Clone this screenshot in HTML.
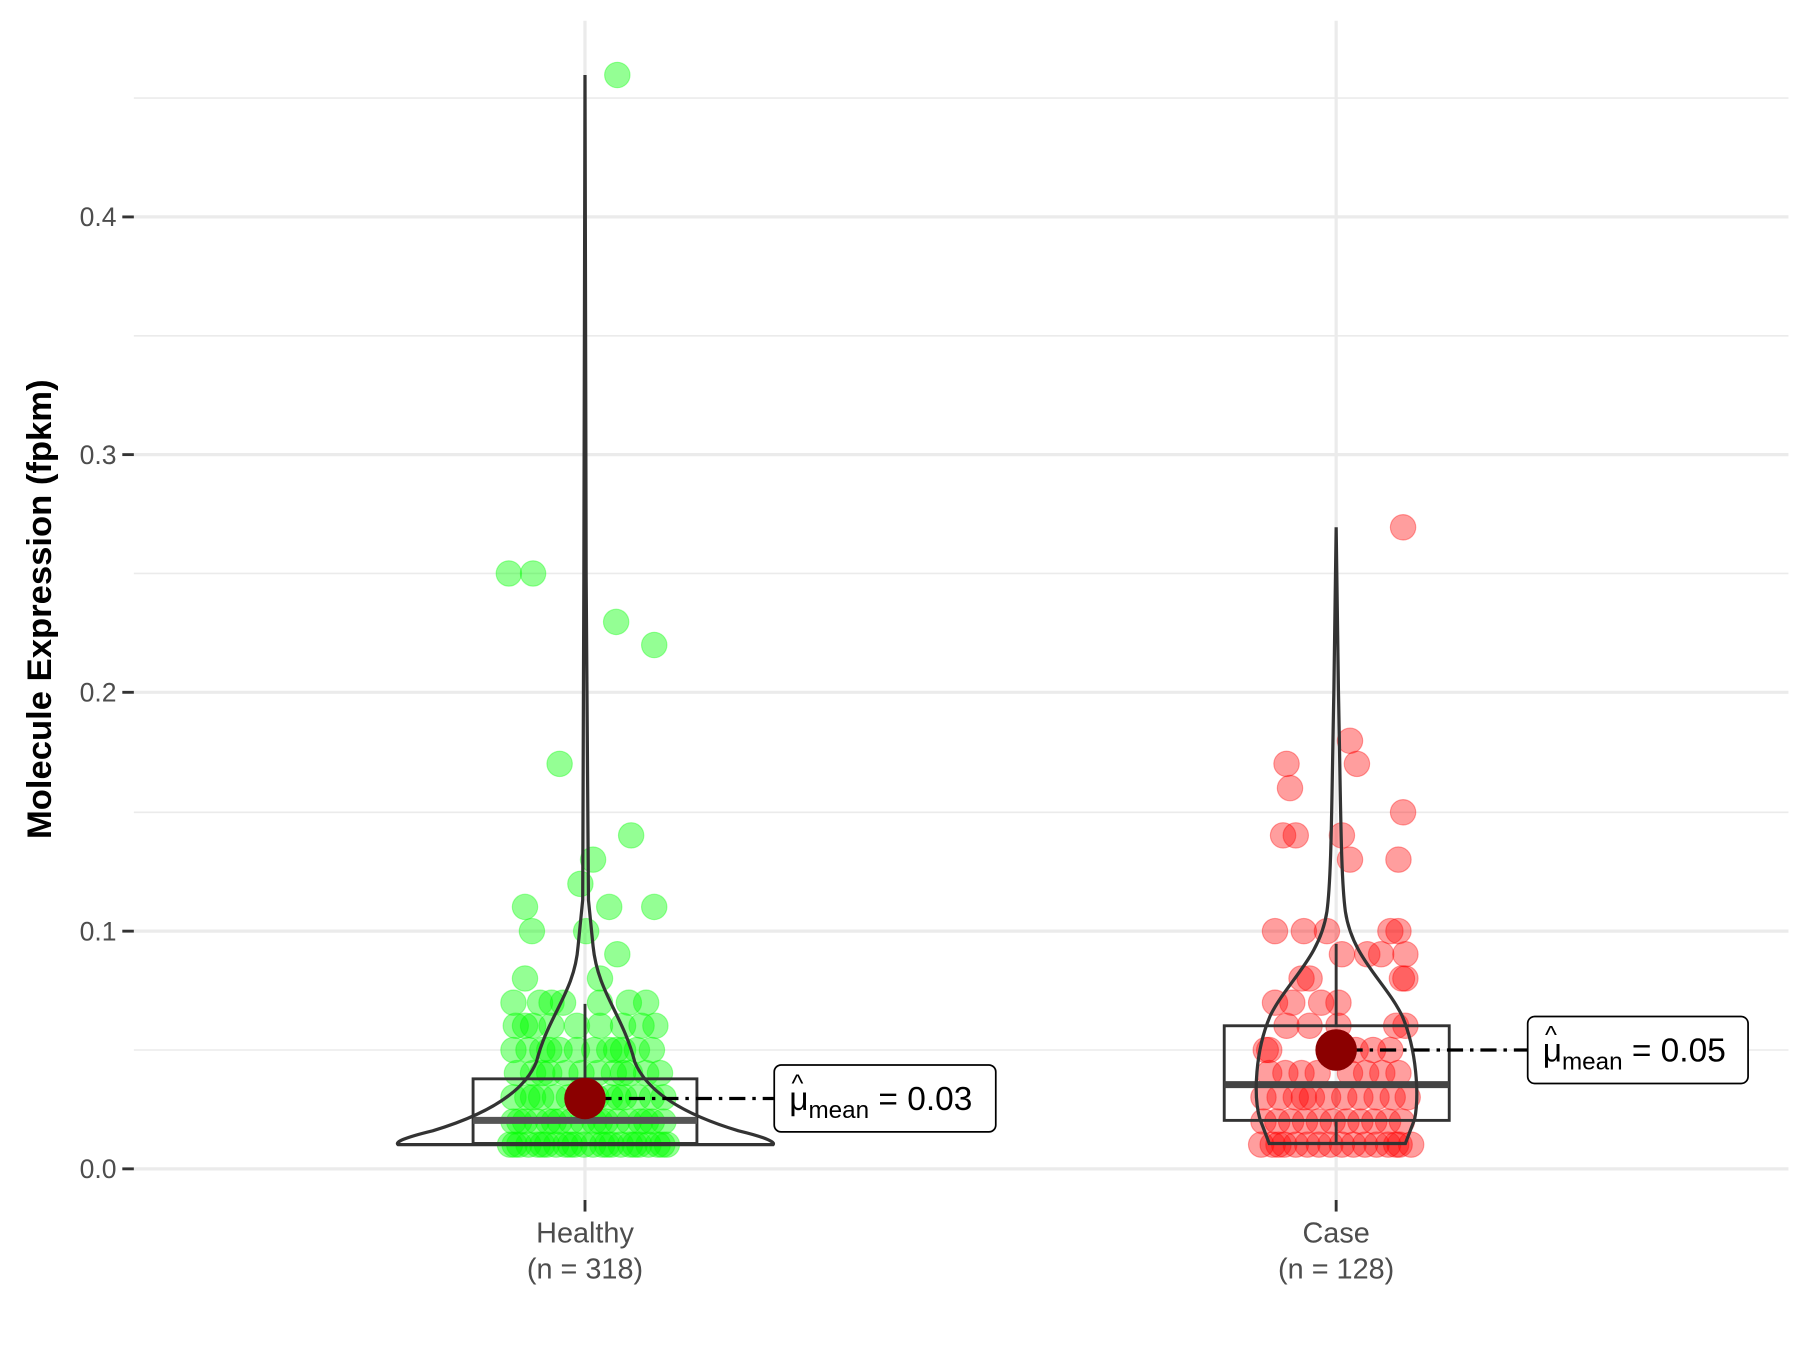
<!DOCTYPE html>
<html><head><meta charset="utf-8"><style>
html,body{margin:0;padding:0;background:#fff;}
svg{display:block;font-family:"Liberation Sans",Arial,sans-serif;}
.g circle{fill:#00ff00;fill-opacity:.42;stroke:#00ff00;stroke-opacity:.35;}
.r circle{fill:#ff0000;fill-opacity:.38;stroke:#ff0000;stroke-opacity:.35;}
</style></head><body>
<svg width="1800" height="1350" viewBox="0 0 1560 1170" xmlns="http://www.w3.org/2000/svg">
<rect width="1560" height="1170" fill="#fff"/>
<g stroke="#ebebeb" stroke-width="1.4">
<line x1="116" x2="1550" y1="85" y2="85"/><line x1="116" x2="1550" y1="291" y2="291"/><line x1="116" x2="1550" y1="497" y2="497"/><line x1="116" x2="1550" y1="704" y2="704"/><line x1="116" x2="1550" y1="910" y2="910"/>
</g>
<g stroke="#ebebeb" stroke-width="2.8">
<line x1="116" x2="1550" y1="188" y2="188"/><line x1="116" x2="1550" y1="394" y2="394"/><line x1="116" x2="1550" y1="600" y2="600"/><line x1="116" x2="1550" y1="807" y2="807"/><line x1="116" x2="1550" y1="1013" y2="1013"/>
<line x1="507" x2="507" y1="18" y2="1040"/><line x1="1158" x2="1158" y1="18" y2="1040"/>
</g>
<g stroke="#333" stroke-width="2.5">
<line x1="106" x2="116" y1="188" y2="188"/><line x1="106" x2="116" y1="394" y2="394"/><line x1="106" x2="116" y1="600" y2="600"/><line x1="106" x2="116" y1="807" y2="807"/><line x1="106" x2="116" y1="1013" y2="1013"/>
<line x1="507" x2="507" y1="1040" y2="1050"/><line x1="1158" x2="1158" y1="1040" y2="1050"/>
</g>
<g fill="#4d4d4d" font-size="23" text-anchor="end">
<text x="101" y="196">0.4</text><text x="101" y="402">0.3</text><text x="101" y="608">0.2</text><text x="101" y="815">0.1</text><text x="101" y="1021">0.0</text>
</g>
<g fill="#4d4d4d" font-size="25" text-anchor="middle">
<text x="507" y="1077">Healthy</text><text x="507" y="1108">(n = 318)</text>
<text x="1158" y="1077">Case</text><text x="1158" y="1108">(n = 128)</text>
</g>
<text transform="translate(44,528) rotate(-90)" text-anchor="middle" font-size="30" font-weight="bold" fill="#000">Molecule Expression (fpkm)</text>

<g class="g">
<circle cx="442" cy="992" r="11"/><circle cx="450" cy="992" r="11"/><circle cx="458" cy="992" r="11"/><circle cx="466" cy="992" r="11"/><circle cx="474" cy="992" r="11"/><circle cx="482" cy="992" r="11"/><circle cx="490" cy="992" r="11"/><circle cx="498" cy="992" r="11"/><circle cx="506" cy="992" r="11"/><circle cx="514" cy="992" r="11"/><circle cx="522" cy="992" r="11"/><circle cx="530" cy="992" r="11"/><circle cx="538" cy="992" r="11"/><circle cx="546" cy="992" r="11"/><circle cx="554" cy="992" r="11"/><circle cx="562" cy="992" r="11"/><circle cx="570" cy="992" r="11"/><circle cx="578" cy="992" r="11"/>
<circle cx="446" cy="992" r="11"/><circle cx="470" cy="992" r="11"/><circle cx="494" cy="992" r="11"/><circle cx="526" cy="992" r="11"/><circle cx="550" cy="992" r="11"/><circle cx="574" cy="992" r="11"/>
<circle cx="445" cy="972" r="11"/><circle cx="455" cy="972" r="11"/><circle cx="465" cy="972" r="11"/><circle cx="475" cy="972" r="11"/><circle cx="485" cy="972" r="11"/><circle cx="495" cy="972" r="11"/><circle cx="505" cy="972" r="11"/><circle cx="515" cy="972" r="11"/><circle cx="525" cy="972" r="11"/><circle cx="535" cy="972" r="11"/><circle cx="545" cy="972" r="11"/><circle cx="555" cy="972" r="11"/><circle cx="565" cy="972" r="11"/><circle cx="575" cy="972" r="11"/>
<circle cx="450" cy="972" r="11"/><circle cx="480" cy="972" r="11"/><circle cx="520" cy="972" r="11"/><circle cx="560" cy="972" r="11"/>
<circle cx="445" cy="951" r="11"/><circle cx="457" cy="951" r="11"/><circle cx="469" cy="951" r="11"/><circle cx="481" cy="951" r="11"/><circle cx="493" cy="951" r="11"/><circle cx="517" cy="951" r="11"/><circle cx="529" cy="951" r="11"/><circle cx="541" cy="951" r="11"/><circle cx="553" cy="951" r="11"/><circle cx="565" cy="951" r="11"/><circle cx="575" cy="951" r="11"/><circle cx="462" cy="951" r="11"/><circle cx="536" cy="951" r="11"/>
<circle cx="448" cy="930" r="11"/><circle cx="462" cy="930" r="11"/><circle cx="476" cy="930" r="11"/><circle cx="490" cy="930" r="11"/><circle cx="504" cy="930" r="11"/><circle cx="518" cy="930" r="11"/><circle cx="532" cy="930" r="11"/><circle cx="546" cy="930" r="11"/><circle cx="560" cy="930" r="11"/><circle cx="572" cy="930" r="11"/><circle cx="470" cy="930" r="11"/><circle cx="540" cy="930" r="11"/>
<circle cx="445" cy="910" r="11"/><circle cx="458" cy="910" r="11"/><circle cx="470" cy="910" r="11"/><circle cx="485" cy="910" r="11"/><circle cx="500" cy="910" r="11"/><circle cx="515" cy="910" r="11"/><circle cx="528" cy="910" r="11"/><circle cx="540" cy="910" r="11"/><circle cx="552" cy="910" r="11"/><circle cx="565" cy="910" r="11"/><circle cx="476" cy="910" r="11"/><circle cx="534" cy="910" r="11"/>
<circle cx="447" cy="889" r="11"/><circle cx="462" cy="889" r="11"/><circle cx="478" cy="889" r="11"/><circle cx="500" cy="889" r="11"/><circle cx="520" cy="889" r="11"/><circle cx="540" cy="889" r="11"/><circle cx="556" cy="889" r="11"/><circle cx="568" cy="889" r="11"/><circle cx="455" cy="889" r="11"/>
<circle cx="445" cy="869" r="11"/><circle cx="468" cy="869" r="11"/><circle cx="478" cy="869" r="11"/><circle cx="488" cy="869" r="11"/><circle cx="520" cy="869" r="11"/><circle cx="545" cy="869" r="11"/><circle cx="560" cy="869" r="11"/>
<circle cx="455" cy="848" r="11"/><circle cx="520" cy="848" r="11"/>
<circle cx="535" cy="827" r="11"/>
<circle cx="461" cy="807" r="11"/><circle cx="508" cy="807" r="11"/>
<circle cx="455" cy="786" r="11"/><circle cx="528" cy="786" r="11"/><circle cx="567" cy="786" r="11"/>
<circle cx="503" cy="766" r="11"/><circle cx="514" cy="745" r="11"/>
<circle cx="547" cy="724" r="11"/><circle cx="485" cy="662" r="11"/><circle cx="567" cy="559" r="11"/><circle cx="534" cy="539" r="11"/><circle cx="441" cy="497" r="11"/><circle cx="462" cy="497" r="11"/><circle cx="535" cy="65" r="11"/>
</g>
<g class="r">
<circle cx="1093" cy="992" r="11"/><circle cx="1103" cy="992" r="11"/><circle cx="1113" cy="992" r="11"/><circle cx="1123" cy="992" r="11"/><circle cx="1133" cy="992" r="11"/><circle cx="1143" cy="992" r="11"/><circle cx="1153" cy="992" r="11"/><circle cx="1163" cy="992" r="11"/><circle cx="1173" cy="992" r="11"/><circle cx="1183" cy="992" r="11"/><circle cx="1193" cy="992" r="11"/><circle cx="1203" cy="992" r="11"/><circle cx="1213" cy="992" r="11"/><circle cx="1223" cy="992" r="11"/><circle cx="1108" cy="992" r="11"/><circle cx="1210" cy="992" r="11"/>
<circle cx="1095" cy="972" r="11"/><circle cx="1107" cy="972" r="11"/><circle cx="1119" cy="972" r="11"/><circle cx="1131" cy="972" r="11"/><circle cx="1143" cy="972" r="11"/><circle cx="1155" cy="972" r="11"/><circle cx="1167" cy="972" r="11"/><circle cx="1179" cy="972" r="11"/><circle cx="1191" cy="972" r="11"/><circle cx="1203" cy="972" r="11"/><circle cx="1215" cy="972" r="11"/>
<circle cx="1095" cy="951" r="11"/><circle cx="1109" cy="951" r="11"/><circle cx="1123" cy="951" r="11"/><circle cx="1137" cy="951" r="11"/><circle cx="1151" cy="951" r="11"/><circle cx="1165" cy="951" r="11"/><circle cx="1179" cy="951" r="11"/><circle cx="1193" cy="951" r="11"/><circle cx="1207" cy="951" r="11"/><circle cx="1220" cy="951" r="11"/><circle cx="1130" cy="951" r="11"/>
<circle cx="1100" cy="930" r="11"/><circle cx="1114" cy="930" r="11"/><circle cx="1128" cy="930" r="11"/><circle cx="1142" cy="930" r="11"/><circle cx="1170" cy="930" r="11"/><circle cx="1184" cy="930" r="11"/><circle cx="1198" cy="930" r="11"/><circle cx="1212" cy="930" r="11"/>
<circle cx="1097" cy="910" r="11"/><circle cx="1100" cy="910" r="11"/><circle cx="1175" cy="910" r="11"/><circle cx="1190" cy="910" r="11"/><circle cx="1205" cy="910" r="11"/>
<circle cx="1115" cy="889" r="11"/><circle cx="1135" cy="889" r="11"/><circle cx="1160" cy="889" r="11"/><circle cx="1210" cy="889" r="11"/><circle cx="1218" cy="889" r="11"/>
<circle cx="1105" cy="869" r="11"/><circle cx="1120" cy="869" r="11"/><circle cx="1145" cy="869" r="11"/><circle cx="1160" cy="869" r="11"/>
<circle cx="1128" cy="848" r="11"/><circle cx="1135" cy="848" r="11"/><circle cx="1215" cy="848" r="11"/><circle cx="1218" cy="848" r="11"/>
<circle cx="1163" cy="827" r="11"/><circle cx="1185" cy="827" r="11"/><circle cx="1197" cy="827" r="11"/><circle cx="1218" cy="827" r="11"/>
<circle cx="1105" cy="807" r="11"/><circle cx="1130" cy="807" r="11"/><circle cx="1150" cy="807" r="11"/><circle cx="1205" cy="807" r="11"/><circle cx="1212" cy="807" r="11"/>
<circle cx="1170" cy="745" r="11"/><circle cx="1212" cy="745" r="11"/>
<circle cx="1112" cy="724" r="11"/><circle cx="1123" cy="724" r="11"/><circle cx="1163" cy="724" r="11"/>
<circle cx="1216" cy="704" r="11"/><circle cx="1118" cy="683" r="11"/><circle cx="1115" cy="662" r="11"/><circle cx="1176" cy="662" r="11"/><circle cx="1170" cy="642" r="11"/>
<circle cx="1216" cy="457" r="11"/>
</g>

<g fill="none" stroke="#333" stroke-width="2.5">
<rect x="410" y="935" width="194" height="56"/>
<line x1="507" x2="507" y1="870" y2="935"/>
<rect x="1061" y="889" width="195" height="82"/>
<line x1="1158" x2="1158" y1="818" y2="889"/><line x1="1158" x2="1158" y1="971" y2="991"/>
</g>
<line x1="410" x2="604" y1="971" y2="971" stroke="#555" stroke-width="6"/>
<line x1="1061" x2="1256" y1="940" y2="940" stroke="#444" stroke-width="6"/>
<g fill="none" stroke="#333" stroke-width="2.8">
<path d="M507,65 L508,500 L510,780 L514,820 C518,860 540,880 550,920 C560,945 590,965 640,980 C665,986 672,990 670,992 L345,992 C342,990 350,986 375,980 C425,965 455,945 465,920 C475,880 498,860 501,820 L505,780 L506,500 Z"/>
<path d="M1158,457 L1160,600 C1162,700 1162,760 1166,790 C1172,830 1200,850 1215,880 C1228,910 1230,950 1226,970 L1218,991 L1100,991 L1092,970 C1086,950 1088,910 1101,880 C1116,850 1144,830 1150,790 C1154,760 1154,700 1156,600 Z"/>
</g>
<g stroke="#000" stroke-width="2.8" stroke-dasharray="14,6,3,6">
<line x1="516" x2="672" y1="952" y2="952"/><line x1="1167" x2="1324" y1="910" y2="910"/>
</g>
<circle cx="507" cy="952" r="18" fill="#8b0000"/><circle cx="1158" cy="910" r="18" fill="#8b0000"/>
<g fill="#fff" stroke="#000" stroke-width="1.5">
<rect x="671" y="923" width="192" height="58" rx="6"/><rect x="1324" y="881" width="191" height="58" rx="6"/>
</g>
<g font-size="29" fill="#000">
<text x="684" y="962">μ<tspan font-size="21" dy="7">mean</tspan><tspan dy="-7"> = 0.03</tspan></text>
<text x="686" y="946" font-size="22">^</text>
<text x="1337" y="920">μ<tspan font-size="21" dy="7">mean</tspan><tspan dy="-7"> = 0.05</tspan></text>
<text x="1339" y="904" font-size="22">^</text>
</g>
</svg>
</body></html>
